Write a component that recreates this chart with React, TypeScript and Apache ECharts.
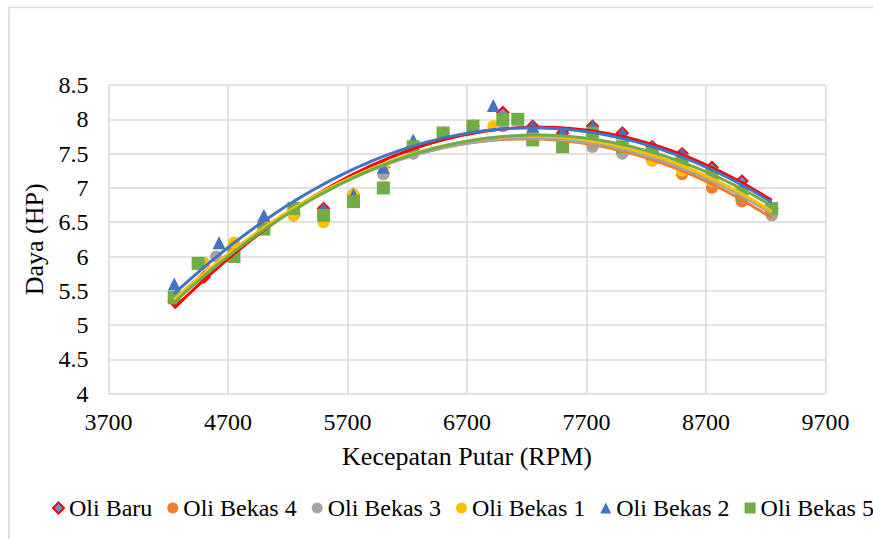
import React, { useEffect, useRef } from "react";
import * as echarts from "echarts";

// ---- Axis settings ----
const X_MIN = 3700;
const X_MAX = 9700;
const X_STEP = 1000;
const Y_MIN = 4;
const Y_MAX = 8.5;
const Y_STEP = 0.5;

const xAxisTitle = "Kecepatan Putar (RPM)";
const yAxisTitle = "Daya (HP)";

// ---- Data (RPM, HP) ----
const oliBaruRpm = [4250, 4500, 4750, 5000, 5250, 5500, 5750, 6000, 6250, 6500, 6750, 7000, 7250, 7500, 7750, 8000, 8250, 8500, 8750, 9000, 9250];
const oliBaruHp = [5.35, 5.7, 6.1, 6.5, 6.6, 6.7, 6.9, 7.3, 7.6, 7.8, 7.9, 8.1, 7.9, 7.8, 7.9, 7.8, 7.6, 7.5, 7.3, 7.1, 6.7];

const oliBekas4Rpm = [4250, 4500, 4750, 5000, 5250, 5500, 5750, 6000, 6250, 6500, 6750, 7000, 7250, 7500, 7750, 8000, 8250, 8500, 8750, 9000, 9250];
const oliBekas4Hp = [5.4, 5.9, 6.1, 6.5, 6.6, 6.6, 6.9, 7.2, 7.5, 7.8, 7.9, 7.9, 7.7, 7.7, 7.6, 7.5, 7.4, 7.2, 7.0, 6.8, 6.6];

const oliBekas3Rpm = [4250, 4600, 4750, 5000, 5250, 5500, 5750, 6000, 6250, 6500, 6750, 7000, 7250, 7500, 7750, 8000, 8250, 8500, 8750, 9000, 9250];
const oliBekas3Hp = [5.4, 6.0, 6.2, 6.5, 6.6, 6.6, 6.9, 7.2, 7.5, 7.8, 7.9, 7.9, 7.7, 7.7, 7.6, 7.5, 7.4, 7.3, 7.1, 6.9, 6.6];

const oliBekas1Rpm = [4250, 4500, 4750, 5000, 5250, 5500, 5750, 6000, 6250, 6500, 6750, 6920, 7250, 7500, 7750, 8000, 8250, 8500, 8750, 9000, 9250];
const oliBekas1Hp = [5.4, 5.9, 6.2, 6.5, 6.6, 6.5, 6.9, 7.3, 7.6, 7.8, 7.9, 7.9, 7.8, 7.7, 7.7, 7.6, 7.4, 7.25, 7.1, 6.9, 6.7];

const oliBekas2Rpm = [4250, 4625, 5000, 5250, 5500, 5750, 6000, 6250, 6500, 6750, 6920, 7250, 7500, 7750, 8000, 8250, 8500, 8750, 9000, 9250];
const oliBekas2Hp = [5.6, 6.2, 6.6, 6.7, 6.7, 6.9, 7.3, 7.7, 7.8, 7.9, 8.2, 7.9, 7.8, 7.9, 7.8, 7.6, 7.5, 7.2, 7.0, 6.7];

const oliBekas5Rpm = [4250, 4450, 4750, 5000, 5250, 5500, 5750, 6000, 6250, 6500, 6750, 7000, 7125, 7250, 7500, 7750, 8000, 8250, 8500, 8750, 9000, 9250];
const oliBekas5Hp = [5.4, 5.9, 6.0, 6.4, 6.7, 6.6, 6.8, 7.0, 7.6, 7.8, 7.9, 8.0, 8.0, 7.7, 7.6, 7.8, 7.6, 7.5, 7.4, 7.2, 6.9, 6.7];

const seriesNames = ["Oli Baru", "Oli Bekas 4", "Oli Bekas 3", "Oli Bekas 1", "Oli Bekas 2", "Oli Bekas 5"];

const FONT = "Liberation Serif";

// Quadratic least-squares trendline (like Excel's polynomial order 2)
function quadFit(xs: number[], ys: number[]) {
  const c = 6750;
  const s = 1000;
  let S0 = 0, S1 = 0, S2 = 0, S3 = 0, S4 = 0, T0 = 0, T1 = 0, T2 = 0;
  for (let i = 0; i < xs.length; i++) {
    const t = (xs[i] - c) / s;
    const y = ys[i];
    S0 += 1; S1 += t; S2 += t * t; S3 += t * t * t; S4 += t * t * t * t;
    T0 += y; T1 += y * t; T2 += y * t * t;
  }
  const M = [
    [S0, S1, S2, T0],
    [S1, S2, S3, T1],
    [S2, S3, S4, T2],
  ];
  for (let i = 0; i < 3; i++) {
    let p = i;
    for (let r = i + 1; r < 3; r++) if (Math.abs(M[r][i]) > Math.abs(M[p][i])) p = r;
    [M[i], M[p]] = [M[p], M[i]];
    for (let r = 0; r < 3; r++) {
      if (r === i) continue;
      const f = M[r][i] / M[i][i];
      for (let k = i; k < 4; k++) M[r][k] -= f * M[i][k];
    }
  }
  const a = M[0][3] / M[0][0];
  const b = M[1][3] / M[1][1];
  const q = M[2][3] / M[2][2];
  const xmin = Math.min(...xs);
  const xmax = Math.max(...xs);
  const pts: number[][] = [];
  const n = 80;
  for (let i = 0; i <= n; i++) {
    const x = xmin + ((xmax - xmin) * i) / n;
    const t = (x - c) / s;
    pts.push([x, a + b * t + q * t * t]);
  }
  return pts;
}

const zip = (xs: number[], ys: number[]) => xs.map((x, i) => [x, ys[i]]);

export default function App() {
  const ref = useRef<HTMLDivElement>(null);

  useEffect(() => {
    document.body.style.margin = "0";
    if (!ref.current) return;
    const chart = echarts.init(ref.current, undefined, { renderer: "svg" });

    const defs = [
      { name: seriesNames[0], xs: oliBaruRpm, ys: oliBaruHp, symbol: "diamond", size: 11, fill: "#5B9BD5", border: "#FF0000", bw: 2, line: "#FF0000" },
      { name: seriesNames[1], xs: oliBekas4Rpm, ys: oliBekas4Hp, symbol: "circle", size: 12, fill: "#ED7D31", border: "#ED7D31", bw: 0, line: "#ED7D31" },
      { name: seriesNames[2], xs: oliBekas3Rpm, ys: oliBekas3Hp, symbol: "circle", size: 12, fill: "#A5A5A5", border: "#A5A5A5", bw: 0, line: "#A5A5A5" },
      { name: seriesNames[3], xs: oliBekas1Rpm, ys: oliBekas1Hp, symbol: "circle", size: 12, fill: "#FFC000", border: "#FFC000", bw: 0, line: "#FFC000" },
      { name: seriesNames[4], xs: oliBekas2Rpm, ys: oliBekas2Hp, symbol: "triangle", size: 13, fill: "#4472C4", border: "#4472C4", bw: 0, line: "#4472C4" },
      { name: seriesNames[5], xs: oliBekas5Rpm, ys: oliBekas5Hp, symbol: "rect", size: 13, fill: "#70AD47", border: "#70AD47", bw: 0, line: "#70AD47" },
    ];

    const scatterSeries = defs.map((d, i) => ({
      name: d.name,
      type: "scatter",
      data: zip(d.xs, d.ys),
      symbol: d.symbol,
      symbolSize: d.size,
      itemStyle: { color: d.fill, borderColor: d.border, borderWidth: d.bw, opacity: 1 },
      z: 2 + i * 0.01,
    }));

    const trendSeries = defs.map((d, i) => ({
      name: d.name + " (trend)",
      type: "line",
      data: quadFit(d.xs, d.ys),
      showSymbol: false,
      symbol: "none",
      smooth: false,
      lineStyle: { color: d.line, width: 3 },
      itemStyle: { color: d.line },
      silent: true,
      z: 4 + i * 0.01,
    }));

    const option: any = {
      animation: false,
      backgroundColor: "#ffffff",
      textStyle: { fontFamily: FONT },
      grid: { left: 108.5, right: 47.5, top: 85, bottom: 145.3, containLabel: false },
      graphic: [
        {
          type: "rect",
          shape: { x: 9, y: 7.5, width: 1000, height: 800 },
          style: { fill: "none", stroke: "#D9D9D9", lineWidth: 1.5 },
          silent: true,
          z: -1,
        },
      ],
      xAxis: {
        type: "value",
        min: X_MIN,
        max: X_MAX,
        interval: X_STEP,
        name: xAxisTitle,
        nameLocation: "middle",
        nameGap: 50,
        nameTextStyle: { fontFamily: FONT, fontSize: 26, color: "#000" },
        axisLine: { show: false },
        axisTick: { show: false },
        axisLabel: { fontFamily: FONT, fontSize: 24, color: "#000", margin: 16, formatter: (v: number) => String(v) },
        splitLine: { show: true, lineStyle: { color: "#D9D9D9", width: 1.5 } },
      },
      yAxis: {
        type: "value",
        min: Y_MIN,
        max: Y_MAX,
        interval: Y_STEP,
        name: yAxisTitle,
        nameLocation: "middle",
        nameGap: 60,
        nameRotate: 90,
        nameTextStyle: { fontFamily: FONT, fontSize: 26, color: "#000" },
        axisLine: { show: false },
        axisTick: { show: false },
        axisLabel: { fontFamily: FONT, fontSize: 24, color: "#000", margin: 20, formatter: (v: number) => String(v) },
        splitLine: { show: true, lineStyle: { color: "#D9D9D9", width: 1.5 } },
      },
      legend: {
        data: seriesNames,
        left: 47,
        top: 491,
        width: 840,
        itemWidth: 11,
        itemHeight: 11,
        itemGap: 15,
        padding: 5,
        textStyle: { fontFamily: FONT, fontSize: 24, color: "#000" },
      },
      series: [...scatterSeries, ...trendSeries],
    };

    chart.setOption(option);
    return () => chart.dispose();
  }, []);

  return <div ref={ref} style={{ width: 873, height: 539 }} />;
}
